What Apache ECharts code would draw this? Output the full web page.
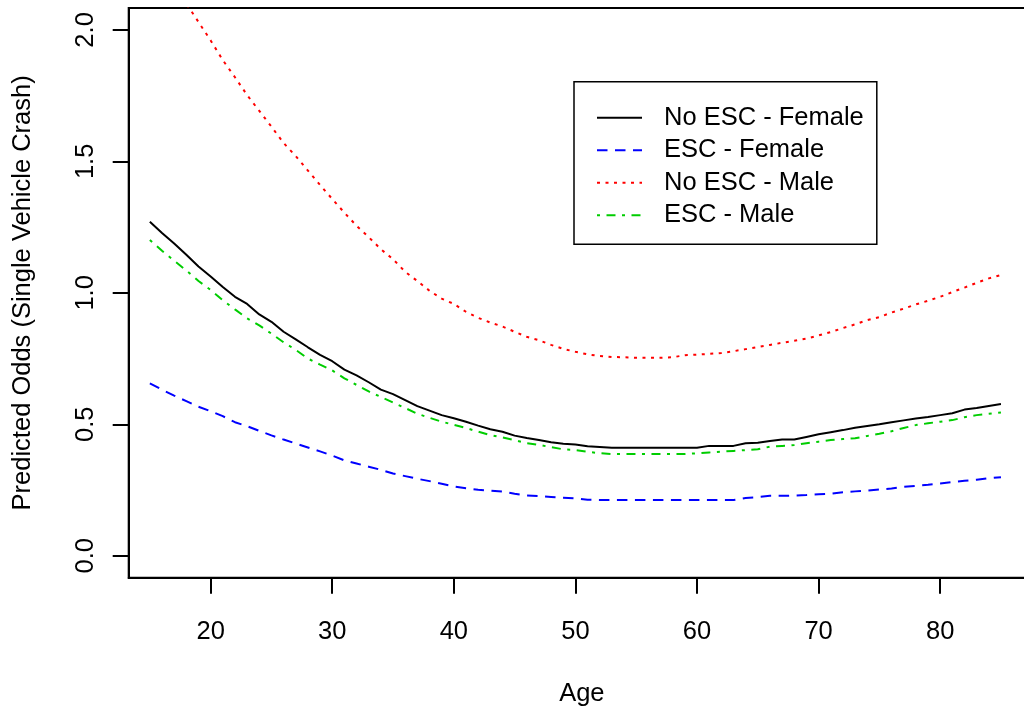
<!DOCTYPE html>
<html>
<head>
<meta charset="utf-8">
<script src="https://cdn.jsdelivr.net/npm/echarts@6/dist/echarts.min.js"></script>
<style>
html,body{margin:0;padding:0;background:#fff;overflow:hidden;}
#chart{width:1024px;height:711px;}
</style>
</head>
<body>
<div id="chart"></div>
<script>
// Ages 15..85
var ages = [];
for (var a = 15; a <= 85; a++) ages.push(a);

var seriesNames = ['No ESC - Female', 'ESC - Female', 'No ESC - Male', 'ESC - Male'];

var noEscFemale = [
1.270,1.228,1.188,1.145,1.100,1.062,1.022,0.985,0.958,0.918,
0.890,0.852,0.823,0.793,0.764,0.740,0.708,0.686,0.660,0.632,
0.615,0.592,0.569,0.552,0.535,0.523,0.510,0.495,0.481,0.472,
0.457,0.448,0.440,0.432,0.426,0.423,0.417,0.414,0.411,0.411,
0.411,0.411,0.411,0.411,0.411,0.411,0.418,0.418,0.418,0.428,
0.430,0.437,0.442,0.442,0.452,0.462,0.470,0.478,0.487,0.494,
0.500,0.508,0.515,0.522,0.528,0.535,0.542,0.556,0.562,0.570,
0.577];

var escFemale = [
0.656,0.632,0.609,0.588,0.567,0.550,0.531,0.508,0.493,0.475,
0.458,0.442,0.427,0.412,0.397,0.381,0.363,0.351,0.339,0.327,
0.313,0.303,0.293,0.284,0.274,0.264,0.257,0.251,0.248,0.244,
0.236,0.229,0.227,0.224,0.221,0.218,0.213,0.212,0.212,0.212,
0.212,0.212,0.212,0.212,0.212,0.212,0.212,0.212,0.212,0.220,
0.223,0.228,0.228,0.229,0.231,0.234,0.236,0.242,0.245,0.248,
0.252,0.256,0.262,0.266,0.270,0.275,0.281,0.285,0.289,0.295,
0.299];

var noEscMale = [
2.350,2.260,2.180,2.100,2.030,1.960,1.885,1.820,1.752,1.692,
1.632,1.570,1.520,1.465,1.410,1.357,1.305,1.255,1.212,1.166,
1.128,1.080,1.045,1.008,0.978,0.958,0.928,0.905,0.887,0.872,
0.852,0.833,0.820,0.802,0.787,0.776,0.766,0.760,0.756,0.755,
0.753,0.753,0.753,0.755,0.763,0.765,0.768,0.771,0.778,0.786,
0.794,0.802,0.810,0.818,0.826,0.838,0.851,0.866,0.880,0.896,
0.908,0.925,0.940,0.956,0.970,0.985,1.003,1.020,1.038,1.055,
1.068];

var escMale = [
1.201,1.160,1.122,1.085,1.045,1.011,0.972,0.937,0.903,0.876,
0.845,0.812,0.783,0.750,0.727,0.705,0.675,0.650,0.625,0.604,
0.583,0.562,0.540,0.525,0.510,0.498,0.486,0.472,0.459,0.450,
0.440,0.428,0.422,0.413,0.405,0.402,0.396,0.390,0.387,0.387,
0.387,0.387,0.387,0.387,0.387,0.390,0.393,0.396,0.399,0.402,
0.405,0.415,0.418,0.421,0.428,0.434,0.440,0.444,0.447,0.456,
0.464,0.474,0.486,0.497,0.504,0.510,0.516,0.527,0.535,0.540,
0.545];

var xTicks = [20, 30, 40, 50, 60, 70, 80];
var yTicks = [0, 0.5, 1.0, 1.5, 2.0];

function pairs(vals) {
  return ages.map(function (a, i) { return [a, vals[i]]; });
}

var FONT = '"Liberation Sans", Arial, sans-serif';
var FS = 25.5;

var chart = echarts.init(document.getElementById('chart'), null, {renderer: 'canvas'});

function mk(name, vals, color, type) {
  return {
    name: name,
    type: 'line',
    data: pairs(vals),
    symbol: 'none',
    smooth: false,
    clip: true,
    animation: false,
    lineStyle: {color: color, width: 2, type: type, cap: 'butt'},
    itemStyle: {color: color},
    emphasis: {disabled: true}
  };
}

chart.setOption({
  animation: false,
  backgroundColor: '#ffffff',
  grid: {
    left: 128.7, top: 8, width: 906.3, height: 569.7,
    containLabel: false,
    outerBoundsMode: 'none',
    show: true, borderColor: '#000', borderWidth: 2, backgroundColor: 'transparent'
  },
  xAxis: {
    type: 'value',
    min: 13.26, max: 87.8,
    name: 'Age',
    nameLocation: 'middle',
    nameGap: 103,
    nameTextStyle: {fontFamily: FONT, fontSize: FS, color: '#000'},
    axisLine: {show: true, onZero: false, lineStyle: {color: '#000', width: 2}},
    axisTick: {show: true, inside: false, length: 16, lineStyle: {color: '#000', width: 2}, customValues: xTicks},
    axisLabel: {show: true, margin: 41, fontFamily: FONT, fontSize: FS, color: '#000', customValues: xTicks,
      formatter: function (v) { return String(v); }},
    splitLine: {show: false}
  },
  yAxis: {
    type: 'value',
    min: -0.0833, max: 2.0833,
    name: 'Predicted Odds (Single Vehicle Crash)',
    nameLocation: 'middle',
    nameRotate: 90,
    nameGap: 93,
    nameTextStyle: {fontFamily: FONT, fontSize: FS, color: '#000'},
    axisLine: {show: true, onZero: false, lineStyle: {color: '#000', width: 2}},
    axisTick: {show: true, inside: false, length: 16, lineStyle: {color: '#000', width: 2}, customValues: yTicks},
    axisLabel: {show: true, rotate: 90, margin: 30, fontFamily: FONT, fontSize: FS, color: '#000', customValues: yTicks,
      formatter: function (v) { return v.toFixed(1); }},
    splitLine: {show: false}
  },
  legend: {
    show: true,
    orient: 'vertical',
    left: 574, top: 81.7,
    padding: [23, 13, 16, 22],
    itemGap: 6.5,
    itemWidth: 45,
    itemHeight: 25,
    borderColor: '#000',
    borderWidth: 1.5,
    borderRadius: 0,
    backgroundColor: '#fff',
    selectedMode: false,
    itemStyle: {color: 'rgba(0,0,0,0)', borderColor: 'rgba(0,0,0,0)', borderWidth: 0},
    textStyle: {fontFamily: FONT, fontSize: FS, color: '#000', padding: [0, 0, 0, 17]},
    data: seriesNames
  },
  series: [
    mk(seriesNames[0], noEscFemale, '#000000', 'solid'),
    mk(seriesNames[1], escFemale, '#0000FF', [10.5, 7.5]),
    mk(seriesNames[2], noEscMale, '#FF0000', [3, 5.5]),
    mk(seriesNames[3], escMale, '#00CD00', [3, 6.5, 9, 6.5])
  ]
});
</script>
</body>
</html>
